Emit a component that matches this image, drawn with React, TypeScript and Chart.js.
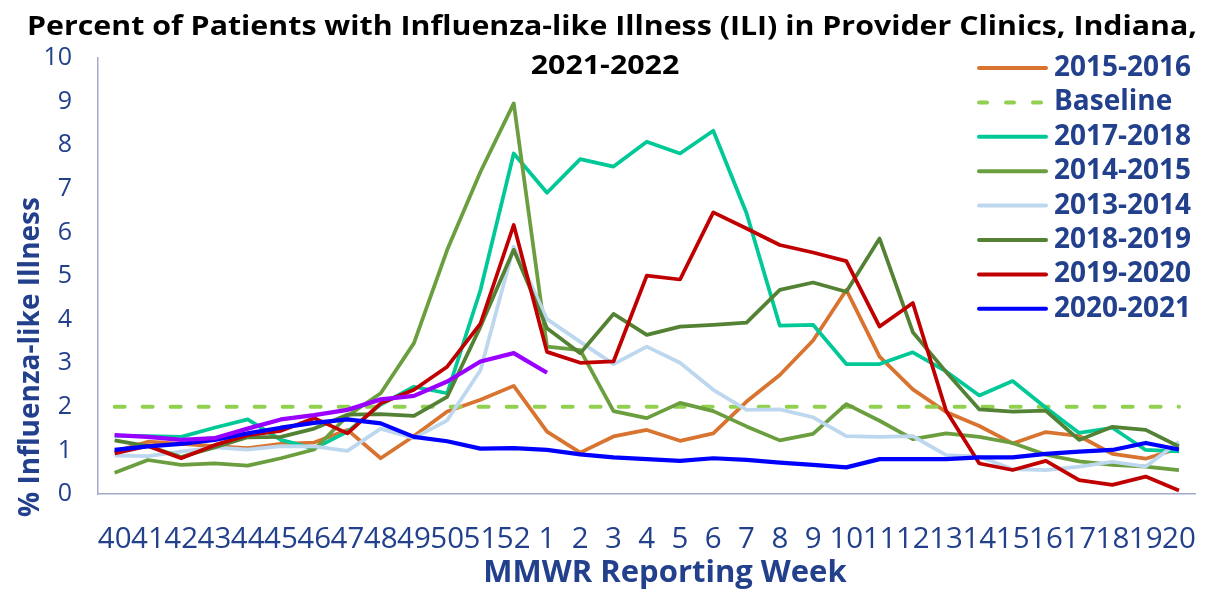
import React, { useEffect, useRef } from 'react';
import { Chart, registerables } from 'chart.js';

Chart.register(...registerables);

const titleLines = [
  'Percent of Patients with Influenza-like Illness (ILI) in Provider Clinics, Indiana,',
  '2021-2022',
];
const yAxisTitle = '% Influenza-like Illness';
const xAxisTitle = 'MMWR Reporting Week';

const weeks = [
  '40', '41', '42', '43', '44', '45', '46', '47', '48', '49', '50', '51', '52',
  '1', '2', '3', '4', '5', '6', '7', '8', '9', '10', '11', '12', '13', '14', '15', '16', '17', '18', '19', '20',
];

const yTicks = [0, 1, 2, 3, 4, 5, 6, 7, 8, 9, 10];

const season2015_2016 = [0.97, 1.2, 1.15, 1.1, 1.05, 1.15, 1.18, 1.47, 0.82, 1.33, 1.89, 2.16, 2.48, 1.43, 0.95, 1.32, 1.47, 1.22, 1.39, 2.12, 2.73, 3.52, 4.68, 3.15, 2.4, 1.88, 1.56, 1.16, 1.42, 1.33, 0.92, 0.81, 1.05];
const baseline = [2, 2, 2, 2, 2, 2, 2, 2, 2, 2, 2, 2, 2, 2, 2, 2, 2, 2, 2, 2, 2, 2, 2, 2, 2, 2, 2, 2, 2, 2, 2, 2, 2];
const season2017_2018 = [1.34, 1.33, 1.31, 1.52, 1.71, 1.24, 1.04, 1.43, 2.05, 2.46, 2.31, 4.68, 7.81, 6.91, 7.68, 7.51, 8.08, 7.81, 8.33, 6.44, 3.86, 3.88, 2.98, 2.98, 3.25, 2.81, 2.26, 2.59, 1.98, 1.4, 1.52, 1.01, 0.98];
const season2014_2015 = [0.49, 0.78, 0.67, 0.7, 0.65, 0.82, 1.02, 1.79, 2.31, 3.46, 5.6, 7.39, 8.96, 3.38, 3.3, 1.9, 1.74, 2.09, 1.9, 1.55, 1.23, 1.38, 2.06, 1.68, 1.26, 1.39, 1.31, 1.17, 0.9, 0.75, 0.67, 0.63, 0.55];
const season2013_2014 = [0.88, 0.87, 0.97, 1.07, 1.02, 1.1, 1.09, 0.99, 1.5, 1.28, 1.69, 2.84, 5.67, 4.01, 3.49, 2.98, 3.38, 3.01, 2.39, 1.93, 1.94, 1.76, 1.33, 1.31, 1.33, 0.89, 0.86, 0.57, 0.55, 0.63, 0.74, 0.63, 1.2];
const season2018_2019 = [1.23, 1.1, 0.85, 1.07, 1.3, 1.31, 1.5, 1.82, 1.83, 1.79, 2.23, 3.84, 5.6, 3.8, 3.23, 4.13, 3.65, 3.84, 3.88, 3.93, 4.68, 4.85, 4.64, 5.86, 3.71, 2.8, 1.94, 1.89, 1.91, 1.24, 1.54, 1.47, 1.09];
const season2019_2020 = [0.93, 1.1, 0.82, 1.12, 1.35, 1.45, 1.74, 1.39, 2.08, 2.39, 2.92, 3.91, 6.17, 3.26, 3.01, 3.04, 5.01, 4.92, 6.46, 6.09, 5.71, 5.54, 5.34, 3.84, 4.38, 1.91, 0.7, 0.55, 0.76, 0.32, 0.21, 0.4, 0.08];
const season2020_2021 = [1.01, 1.09, 1.15, 1.24, 1.39, 1.52, 1.63, 1.71, 1.62, 1.31, 1.21, 1.04, 1.05, 1.01, 0.91, 0.84, 0.8, 0.76, 0.82, 0.78, 0.72, 0.67, 0.61, 0.8, 0.8, 0.8, 0.84, 0.84, 0.92, 0.97, 1.01, 1.17, 1.02];
const season2021_2022 = [1.35, 1.31, 1.24, 1.28, 1.5, 1.71, 1.81, 1.93, 2.17, 2.25, 2.58, 3.04, 3.23, 2.78, null, null, null, null, null, null, null, null, null, null, null, null, null, null, null, null, null, null, null];

const seriesLabels = ['2015-2016', 'Baseline', '2017-2018', '2014-2015', '2013-2014', '2018-2019', '2019-2020', '2020-2021', '2021-2022'];
const seriesData = [season2015_2016, baseline, season2017_2018, season2014_2015, season2013_2014, season2018_2019, season2019_2020, season2020_2021, season2021_2022];
const seriesColors = ['#D8742F', '#92D050', '#00C997', '#6B9E3E', '#BDD7EE', '#548235', '#C00000', '#0000FF', '#9A00FF'];
const seriesInLegend = [true, true, true, true, true, true, true, true, false];

const TEXT_BLUE = '#22408C';
const FONT = "'Open Sans', 'Noto Sans', sans-serif";

const overlayPlugin = {
  id: 'overlayText',
  afterDraw(chart: any) {
    const ctx = chart.ctx as CanvasRenderingContext2D;
    ctx.save();
    // Title (stretched horizontally to the width of the original)
    ctx.fillStyle = '#000000';
    ctx.font = `bold 26px ${FONT}`;
    ctx.textAlign = 'center';
    ctx.textBaseline = 'alphabetic';
    const w1 = ctx.measureText(titleLines[0]).width;
    const sx = 1170 / w1;
    ctx.save();
    ctx.translate(612, 0);
    ctx.scale(sx, 1);
    ctx.fillText(titleLines[0], 0, 35);
    ctx.restore();
    ctx.save();
    ctx.translate(605, 0);
    ctx.scale(sx, 1);
    ctx.fillText(titleLines[1], 0, 74);
    ctx.restore();

    // X axis title
    ctx.fillStyle = TEXT_BLUE;
    ctx.font = `bold 31px ${FONT}`;
    ctx.textAlign = 'center';
    ctx.textBaseline = 'middle';
    ctx.fillText(xAxisTitle, 665, 573);

    // Y axis title
    ctx.save();
    ctx.translate(31, 357);
    ctx.rotate(-Math.PI / 2);
    ctx.fillStyle = TEXT_BLUE;
    ctx.font = `bold 28px ${FONT}`;
    ctx.textAlign = 'center';
    ctx.textBaseline = 'middle';
    ctx.fillText(yAxisTitle, 0, 0);
    ctx.restore();

    // Legend
    const datasets = chart.data.datasets;
    let row = 0;
    datasets.forEach((ds: any, i: number) => {
      if (!seriesInLegend[i]) return;
      const y = 68 + row * 34.4;
      ctx.save();
      ctx.strokeStyle = ds.borderColor;
      ctx.lineWidth = 4;
      ctx.lineCap = 'round';
      ctx.setLineDash(ds.borderDash && ds.borderDash.length ? [8, 19] : []);
      ctx.beginPath();
      ctx.moveTo(979, y);
      ctx.lineTo(1046, y);
      ctx.stroke();
      ctx.restore();
      ctx.fillStyle = TEXT_BLUE;
      ctx.font = `bold 28px ${FONT}`;
      ctx.textAlign = 'left';
      ctx.textBaseline = 'middle';
      ctx.fillText(ds.label, 1054, y);
      row++;
    });
    ctx.restore();
  },
};

export default function App() {
  const canvasRef = useRef<HTMLCanvasElement | null>(null);

  useEffect(() => {
    document.body.style.margin = '0';
    const canvas = canvasRef.current;
    if (!canvas) return;
    const datasets = seriesData.map((data, i) => ({
      label: seriesLabels[i],
      data,
      borderColor: seriesColors[i],
      backgroundColor: seriesColors[i],
      borderWidth: i === 1 ? 4 : (i >= 7 ? 4.25 : 3.75),
      borderDash: i === 1 ? [10, 18] : [],
      borderCapStyle: i === 1 ? 'round' : 'butt',
      borderJoinStyle: 'round',
      pointRadius: 0,
      pointHoverRadius: 0,
      tension: 0,
      fill: false,
      spanGaps: false,
      order: 20 - i,
    }));

    const chart = new Chart(canvas, {
      type: 'line',
      data: { labels: weeks, datasets: datasets as any },
      options: {
        responsive: false,
        animation: false,
        devicePixelRatio: 1,
        layout: { padding: { left: 0, right: 14, top: 58, bottom: 0 } },
        plugins: {
          legend: { display: false },
          title: { display: false },
          tooltip: { enabled: false },
        },
        scales: {
          x: {
            type: 'category',
            offset: true,
            grid: { display: false, drawTicks: false },
            border: { display: true, color: '#A3A9C9', width: 1.5 },
            ticks: {
              autoSkip: false,
              maxRotation: 0,
              minRotation: 0,
              padding: 28,
              color: TEXT_BLUE,
              font: { family: FONT, size: 29.5, lineHeight: 1.2 },
            },
            title: { display: false },
            afterFit: (scale: any) => {
              scale.height = 95;
            },
          },
          y: {
            type: 'linear',
            min: 0,
            max: 10,
            afterBuildTicks: (scale: any) => {
              scale.ticks = yTicks.map((v) => ({ value: v }));
            },
            grid: { display: false, drawTicks: false },
            border: { display: true, color: '#A3A9C9', width: 1.5 },
            ticks: {
              padding: 26,
              color: TEXT_BLUE,
              font: { family: FONT, size: 25 },
            },
            afterFit: (scale: any) => {
              scale.width = 98;
            },
          },
        },
      },
      plugins: [overlayPlugin],
    });
    return () => chart.destroy();
  }, []);

  return (
    <div style={{ width: 1224, height: 589, background: '#ffffff' }}>
      <canvas ref={canvasRef} width={1224} height={589} />
    </div>
  );
}
